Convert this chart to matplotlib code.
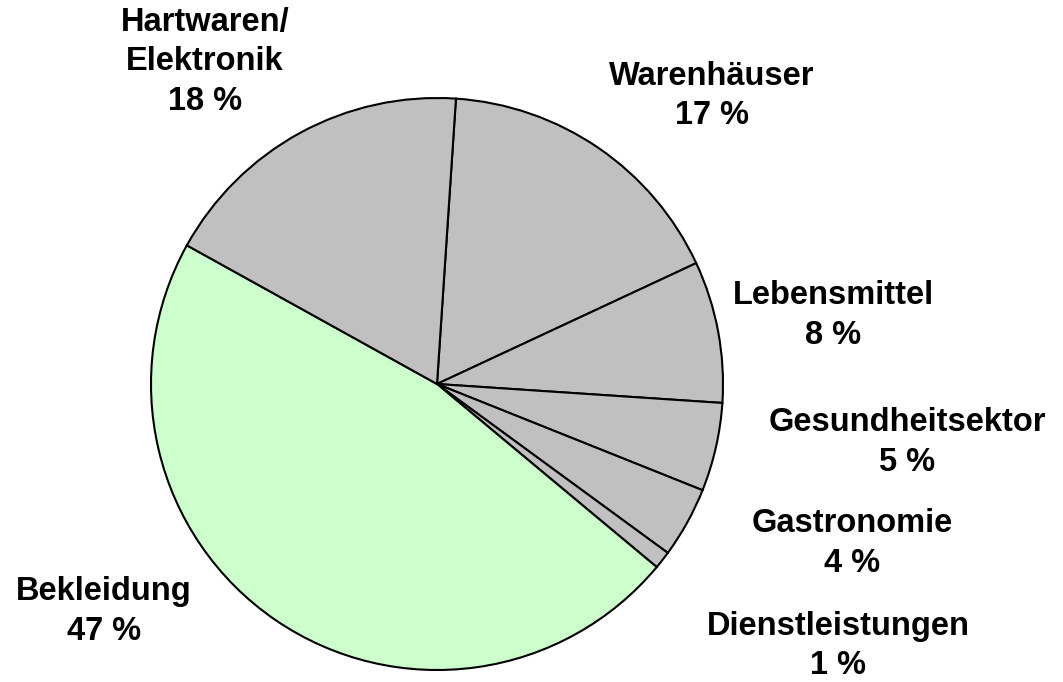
import matplotlib.pyplot as plt

# ------------------------------------------------------
# Data
# ------------------------------------------------------

categories = ["Warenhäuser", "Lebensmittel", "Gesundheitsektor",
              "Gastronomie", "Dienstleistungen", "Bekleidung",
              "Hartwaren/\nElektronik"]
shares = [17, 8, 5, 4, 1, 47, 18]
colors = ["#C0C0C0"] * 5 + ["#CCFFCC", "#C0C0C0"]

# label positions, in pie radius units
label_pos = [(0.962, 1.007), (1.385, 0.238), (1.643, -0.206),
             (1.451, -0.559), (1.402, -0.916), (-1.164, -0.794),
             (-0.811, 1.126)]

# ------------------------------------------------------
# Figure
# ------------------------------------------------------

fig = plt.figure(figsize=(10.63, 6.82), dpi=100)
ax = fig.add_axes([0, 0, 1, 1])

ax.pie(shares, colors=colors, startangle=86.2, counterclock=False,
       radius=1.0, center=(0, 0),
       wedgeprops=dict(edgecolor="black", linewidth=1.5))

for name, val, (x, y) in zip(categories, shares, label_pos):
    ax.text(x, y, f"{name}\n{val} %", ha="center", va="center",
            fontsize=23.5, fontweight="bold", family="Liberation Sans",
            linespacing=1.37)

ax.set_xlim(-437 / 286, (1063 - 437) / 286)
ax.set_ylim((384 - 682) / 286, 384 / 286)
ax.set_aspect("equal")
ax.axis("off")

fig.savefig("out.png", dpi=100, facecolor="white")
